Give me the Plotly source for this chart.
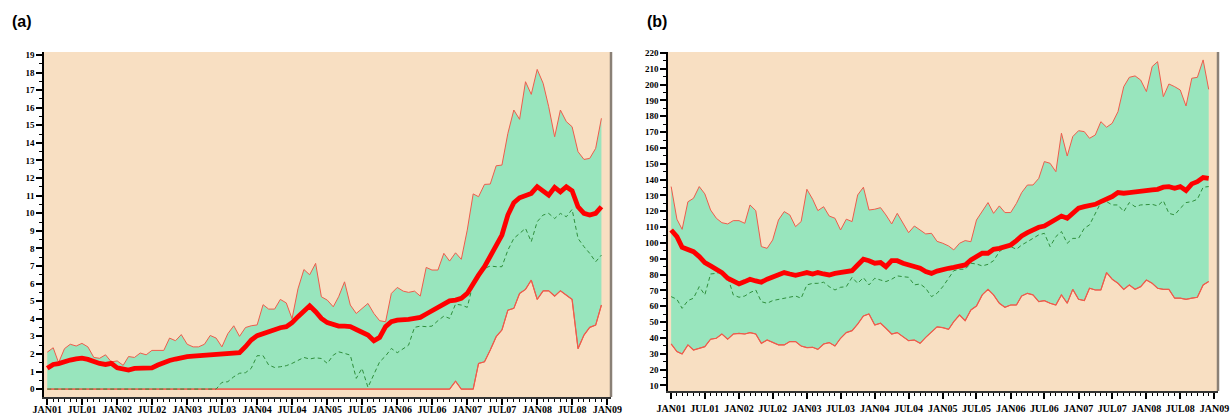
import pandas as pd
import plotly.graph_objects as go

# ---------------- data (monthly, JAN01 .. DEC08) ----------------
months = pd.date_range("2001-01-01", periods=96, freq="MS")

a_upper = [2.1, 2.35, 1.5, 2.3, 2.55, 2.45, 2.6, 2.4, 1.8, 1.75, 1.95, 1.55,
           1.6, 1.35, 1.85, 1.8, 2.05, 1.95, 2.2, 2.2, 2.2, 2.9, 2.75, 3.1,
           2.55, 2.4, 2.4, 2.55, 3.05, 2.9, 2.4, 3.15, 3.6, 3.0, 3.5, 3.6,
           3.65, 4.8, 4.55, 4.55, 5.1, 4.9, 4.0, 5.7, 6.8, 6.5, 7.15, 5.25,
           5.06, 4.68, 5.25, 6.1, 4.78, 4.3, 4.59, 4.87, 4.3, 3.89, 3.83, 5.44,
           5.78, 5.57, 5.5, 5.57, 5.29, 6.92, 6.77, 6.77, 7.72, 7.28, 7.75, 7.38,
           9.04, 11.1, 10.94, 11.64, 11.66, 12.7, 12.74, 14.54, 15.87, 15.34, 17.48, 16.76,
           18.18, 17.39, 16.06, 14.35, 15.87, 15.21, 14.92, 13.5, 13.06, 13.12, 13.69, 15.4]
a_mean = [1.18, 1.4, 1.45, 1.57, 1.65, 1.72, 1.76, 1.69, 1.55, 1.46, 1.4, 1.46,
          1.21, 1.12, 1.08, 1.18, 1.18, 1.18, 1.21, 1.37, 1.52, 1.63, 1.71, 1.8,
          1.84, 1.88, 1.9, 1.92, 1.94, 1.97, 2.03, 2.03, 2.03, 2.07, 2.41, 2.79,
          3.04, 3.17, 3.26, 3.36, 3.49, 3.55, 3.78, 4.12, 4.46, 4.74, 4.4, 4.02,
          3.78, 3.64, 3.58, 3.58, 3.55, 3.39, 3.2, 3.07, 2.75, 2.94, 3.55, 3.83,
          3.92, 3.92, 3.96, 4.02, 4.08, 4.27, 4.46, 4.65, 4.83, 5.02, 5.06, 5.16,
          5.44, 6.01, 6.48, 6.96, 7.53, 8.1, 8.76, 9.9, 10.6, 10.88, 11.0, 11.13,
          11.51, 11.22, 11.03, 11.47, 11.22, 11.51, 11.28, 10.37, 9.99, 9.9, 9.99, 10.37]
a_median = [0, 0, 0, 0, 0, 0, 0, 0, 0, 0, 0, 0,
            0, 0, 0, 0, 0, 0, 0, 0, 0, 0, 0, 0,
            0, 0, 0, 0, 0, 0, 0.38, 0.42, 0.7, 0.9, 0.93, 1.18,
            1.9, 1.9, 1.37, 1.23, 1.27, 1.33, 1.46, 1.65, 1.8, 1.71, 1.78, 1.74,
            1.46, 1.93, 2.12, 2.03, 1.93, 0.61, 1.18, 0.1, 0.89, 1.55, 1.88, 2.31,
            2.07, 2.31, 2.5, 3.51, 3.58, 3.55, 3.58, 3.89, 4.15, 4.02, 4.83, 4.78,
            4.65, 6.01, 6.67, 6.86, 7.0, 6.96, 6.96, 7.9, 8.57, 8.85, 9.14, 8.38,
            9.52, 9.9, 9.99, 9.7, 9.99, 9.8, 10.22, 8.57, 8.1, 7.72, 7.24, 7.62]
a_lower = [0, 0, 0, 0, 0, 0, 0, 0, 0, 0, 0, 0,
           0, 0, 0, 0, 0, 0, 0, 0, 0, 0, 0, 0,
           0, 0, 0, 0, 0, 0, 0, 0, 0, 0, 0, 0,
           0, 0, 0, 0, 0, 0, 0, 0, 0, 0, 0, 0,
           0, 0, 0, 0, 0, 0, 0, 0, 0, 0, 0, 0,
           0, 0, 0, 0, 0, 0, 0, 0, 0, 0, 0.45, 0,
           0, 0, 1.46, 1.55, 2.22, 2.98, 3.36, 4.49, 4.59, 5.44, 5.67, 6.2,
           5.1, 5.59, 5.59, 5.29, 5.59, 5.35, 5.1, 2.3, 3.07, 3.51, 3.64, 4.78]

b_upper = [135.6, 115, 108.6, 126, 128.2, 135.6, 131, 120.8, 115.6, 112.8, 112, 114.1,
           114.1, 112.4, 124, 120.4, 97.7, 96.6, 101.9, 114.5, 119.8, 117.7, 110.3, 113.5,
           133.9, 127.6, 120.4, 122.9, 117, 115.6, 108.2, 115, 113.5, 130.3, 135.2, 120.8,
           121.3, 122.3, 117.7, 112, 118.7, 112, 106.5, 110.7, 108.2, 105.7, 106.1, 101,
           99.8, 98.1, 95.6, 99.8, 101.5, 100.8, 114.5, 119.8, 125.5, 118.7, 123.4, 119.2,
           119.2, 125, 131.8, 136.6, 136.6, 140.8, 151.4, 150.3, 145, 169.3, 154.9, 167.2,
           170.9, 170.3, 166.1, 168.2, 176.6, 173.1, 175.6, 182.9, 198.7, 204.6, 205.5, 202.9,
           195.6, 211.4, 214.5, 192.4, 200.4, 198.7, 196.6, 186.5, 204, 204.6, 215.6, 197]
b_mean = [108.2, 104, 97.3, 95.6, 94.5, 91.4, 87.6, 85.5, 82.9, 81.3, 77.7, 75.6,
          74.1, 75.6, 77.1, 76, 75.2, 77.1, 78.7, 79.8, 81.3, 80.4, 79.6, 80.4,
          81.3, 80.4, 81.3, 80.4, 79.8, 80.8, 81.3, 82.3, 82.5, 86.1, 89.7, 88.8,
          87.2, 87.6, 85, 88.8, 88.8, 87.2, 86.1, 85.5, 84, 81.9, 80.8, 82.2,
          83.4, 84, 84.6, 85.1, 86.1, 89.3, 91.4, 93.5, 93.5, 96, 96.6, 97.3,
          98.7, 101.5, 104.4, 106.5, 108.2, 109.9, 110.7, 112.8, 115, 117, 115.6, 119.2,
          121.9, 122.9, 123.4, 124.4, 126.1, 127.6, 129.3, 131.8, 131.4, 131.8, 132.4, 132.4,
          133.1, 133.5, 133.9, 135.2, 135.6, 134.5, 135.6, 133.1, 137.3, 138.7, 141.3, 140.8]
b_median = [66.1, 64.4, 58.7, 63.6, 65.1, 72.4, 67.2, 80.4, 80.8, 81.9, 78.7, 67.2,
            65.7, 66.5, 68.6, 70.3, 62.9, 61.9, 63.6, 64.4, 65.1, 65.7, 66.5, 65.1,
            73.5, 74.5, 74.5, 75.2, 72.4, 70.3, 72, 72.4, 78.3, 74.5, 78.1, 73.5,
            77.7, 76.6, 75.6, 77.1, 79.2, 78.7, 78.3, 73.5, 74.1, 71.4, 66.1, 68.2,
            72.4, 77.7, 82.5, 83.4, 83.4, 87.2, 86.7, 85.5, 86.5, 88.8, 94.5, 97.3,
            97.7, 96, 98.7, 100.8, 102.9, 105.1, 106.1, 97.7, 104, 107.2, 99.8, 102.9,
            102.9, 109.3, 111.4, 118.7, 125.5, 126.1, 124, 124, 119.8, 125.5, 122.9, 124,
            124, 124.4, 123.4, 126.7, 118.7, 117.7, 121.9, 125.5, 126.1, 127.6, 135.2, 135.6]
b_lower = [36.2, 31.4, 29.9, 35.6, 32.4, 33.5, 34.5, 39.2, 39.8, 42.5, 39.2, 42.5,
           42.9, 42.5, 43.4, 42.5, 36.6, 38.7, 37.1, 35.6, 35.6, 37.7, 37.7, 34.9,
           33.9, 34.1, 32.8, 36.2, 37.1, 34.9, 39.8, 43.4, 44.6, 48.8, 53.9, 55.2,
           48.2, 49.3, 46.1, 42.5, 43.4, 40.8, 38.3, 38.7, 36.6, 40.4, 44, 47,
           46.5, 45.5, 50.3, 54.5, 50.9, 57.7, 60.2, 67.2, 70.7, 67.2, 61.9, 59.4,
           60.8, 60.8, 66.5, 68.2, 67.2, 62.9, 63.6, 61.9, 60.8, 67.2, 61.9, 70.7,
           64.4, 63.6, 71.4, 70.3, 70.3, 81.3, 77.1, 74.5, 70.7, 73.5, 70.7, 72.4,
           76.6, 74.5, 71.4, 70.7, 70.7, 65.1, 65.1, 64.4, 65.1, 65.7, 73.5, 75.6]

tick_dates = pd.date_range("2001-01-01", "2009-01-01", freq="6MS")
tick_labels = ["JAN01", "JUL01", "JAN02", "JUL02", "JAN03", "JUL03", "JAN04", "JUL04",
               "JAN05", "JUL05", "JAN06", "JUL06", "JAN07", "JUL07", "JAN08", "JUL08", "JAN09"]

# ---------------- style ----------------
BG = "#f8dfc2"
FILL = "#98e5bd"
BAND = "#ee5c4c"
MEAN = "#ff0000"
MED = "#2f8f3c"
W, H = 1231, 414

fig = go.Figure()


def add_panel(xa, ya, lower, upper, median, mean):
    fig.add_trace(go.Scatter(x=months, y=lower, xaxis=xa, yaxis=ya, mode="lines",
                             line=dict(color=BAND, width=1), showlegend=False, hoverinfo="skip"))
    fig.add_trace(go.Scatter(x=months, y=upper, xaxis=xa, yaxis=ya, mode="lines",
                             fill="tonexty", fillcolor=FILL,
                             line=dict(color=BAND, width=1), showlegend=False))
    fig.add_trace(go.Scatter(x=months, y=lower, xaxis=xa, yaxis=ya, mode="lines",
                             line=dict(color=BAND, width=1.2), showlegend=False))
    fig.add_trace(go.Scatter(x=months, y=median, xaxis=xa, yaxis=ya, mode="lines",
                             line=dict(color=MED, width=1, dash="4px,3px"), showlegend=False))
    fig.add_trace(go.Scatter(x=months, y=mean, xaxis=xa, yaxis=ya, mode="lines",
                             line=dict(color=MEAN, width=4.8), showlegend=False))


add_panel("x", "y", a_lower, a_upper, a_median, a_mean)
add_panel("x2", "y2", b_lower, b_upper, b_median, b_mean)

tfont = dict(family="Liberation Serif", size=10, color="black", weight="bold")
yfont = dict(family="Liberation Serif", size=9, color="black", weight="bold")


def xax(domain, standoff):
    return dict(domain=domain, range=["2000-12-15", "2009-01-20"],
                tickmode="array", tickvals=tick_dates, ticktext=tick_labels,
                ticks="outside", ticklen=6, tickwidth=2, tickcolor="black",
                ticklabelstandoff=standoff,
                showline=True, linecolor="#333333", linewidth=1.5,
                showgrid=False, zeroline=False, tickfont=tfont, automargin=False,
                minor=dict(ticks="outside", ticklen=3, tickwidth=1, tickcolor="black",
                           dtick="M1", tick0="2001-01-01", showgrid=False))


def yax(domain, rng, dtick, mdtick, anchor):
    return dict(domain=domain, range=rng, dtick=dtick, tick0=0,
                ticks="outside", ticklen=6, tickwidth=2, tickcolor="black",
                showline=True, linecolor="black", linewidth=1.5,
                showgrid=False, zeroline=False, tickfont=yfont, automargin=False,
                anchor=anchor,
                minor=dict(ticks="outside", ticklen=3, tickwidth=1, tickcolor="black",
                           dtick=mdtick, tick0=0, showgrid=False))


fig.update_layout(
    width=W, height=H,
    margin=dict(l=0, r=0, t=0, b=0),
    paper_bgcolor="white", plot_bgcolor=BG,
    xaxis=dict(xax([44 / W, 611 / W], -4), anchor="y"),
    yaxis=yax([1 - 397 / H, 1 - 52 / H], [-0.45, 19.17], 1, 0.5, "x"),
    xaxis2=dict(xax([668 / W, 1218 / W], 1), anchor="y2"),
    yaxis2=yax([1 - 391 / H, 1 - 52 / H], [6.5, 220.6], 10, 5, "x2"),
    shapes=[
        dict(type="line", xref="x domain", yref="y domain", x0=1, x1=1, y0=0, y1=1,
             line=dict(color="#8a8076", width=2.5)),
        dict(type="line", xref="x2 domain", yref="y2 domain", x0=1, x1=1, y0=0, y1=1,
             line=dict(color="#8a8076", width=2.5)),
    ],
    annotations=[
        dict(text="(a)", x=10 / W, y=1 - 21 / H, xref="paper", yref="paper",
             xanchor="left", yanchor="middle", showarrow=False,
             font=dict(family="Liberation Sans", size=16, color="black", weight="bold")),
        dict(text="(b)", x=645 / W, y=1 - 21 / H, xref="paper", yref="paper",
             xanchor="left", yanchor="middle", showarrow=False,
             font=dict(family="Liberation Sans", size=16, color="black", weight="bold")),
    ],
)

fig.write_html("out.html", config={"displayModeBar": False},
               post_script="document.body.style.margin='0';document.body.style.padding='0';")
